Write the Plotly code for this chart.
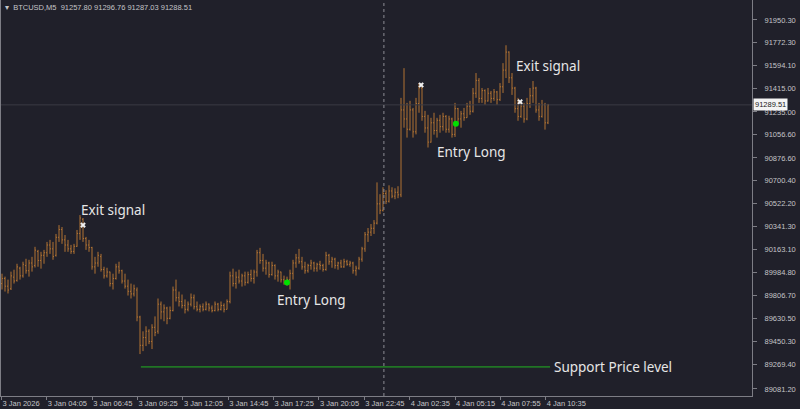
import plotly.graph_objects as go

# ---------------- data ----------------
opens = [89900,89940,89880,89860,89950,89925,90020,89960,90040,90000,90060,90040,90150,90080,90120,90140,90200,90170,90120,90260,
         90320,90240,90200,90170,90150,90190,90290,90400,90250,90200,90180,90030,90060,90110,90010,89960,89990,89900,89940,90030,
         90000,89920,89880,89840,89820,89850,89640,89420,89480,89530,89450,89560,89530,89740,89680,89710,89630,89690,89850,89790,
         89760,89730,89700,89740,89790,89720,89700,89720,89700,89740,89710,89690,89740,89700,89730,89700,89760,89960,89900,89950,
         89920,89960,89910,89970,89940,89990,90140,90080,90020,90060,89970,90040,89960,89990,89930,89910,89930,89980,90060,90100,
         90070,90030,90000,90040,90060,90020,90050,90040,90010,90120,90070,90090,90040,90060,90030,90070,90050,90060,90000,90020,
         90090,90170,90280,90300,90330,90370,90520,90470,90600,90540,90620,90580,90610,90590,91250,91180,91100,91250,91080,91300,
         91420,91200,91110,91000,91150,91090,91170,91120,91200,91100,91180,91060,91260,91180,91220,91190,91280,91240,91380,91480,
         91340,91400,91320,91380,91340,91390,91330,91430,91560,91700,91500,91420,91260,91200,91280,91180,91300,91360,91420,91250,
         91200,91290,91150]
highs = [89977,89954,89931,89993,90008,90054,90031,90070,90093,90085,90108,90186,90162,90147,90162,90224,90240,90224,90286,90355,
         90340,90278,90240,90201,90209,90317,90433,90410,90263,90240,90186,90108,90147,90131,90031,90023,89993,89977,90054,90070,
         90008,89977,89931,89900,89892,89870,89650,89529,89568,89545,89584,89645,89784,89761,89738,89720,89722,89877,89931,89838,
         89815,89777,89761,89823,89815,89761,89738,89746,89761,89746,89730,89761,89750,89761,89746,89777,89993,90016,89993,90008,
         89977,89993,89993,90008,90008,90162,90178,90131,90085,90070,90070,90050,90008,89993,89962,89954,90008,90085,90131,90170,
         90108,90070,90054,90085,90070,90062,90077,90054,90147,90131,90108,90101,90070,90085,90093,90085,90077,90070,90039,90108,
         90186,90301,90332,90363,90394,90687,90595,90649,90626,90664,90649,90641,90657,91344,91575,91305,91321,91266,91344,91459,
         91430,91243,91212,91189,91228,91189,91212,91228,91210,91205,91190,91305,91266,91243,91266,91305,91321,91421,91537,91498,
         91421,91410,91421,91398,91413,91398,91459,91614,91753,91706,91537,91430,91344,91321,91305,91344,91421,91475,91430,91305,
         91328,91305,91297]
lows = [89854,89838,89823,89850,89900,89915,89931,89946,89977,89954,89993,90025,90031,90016,90054,90108,90131,90085,90110,90224,
        90209,90147,90147,90131,90131,90186,90240,90224,90162,90147,90008,89977,90031,89993,89939,89946,89877,89854,89931,89977,
        89900,89861,89807,89784,89800,89607,89352,89375,89414,89429,89391,89491,89510,89622,89607,89584,89622,89684,89761,89722,
        89707,89668,89684,89722,89699,89684,89676,89684,89691,89684,89676,89684,89684,89691,89676,89699,89746,89877,89861,89900,
        89877,89884,89900,89915,89900,89954,90054,89993,89969,89946,89962,89931,89915,89908,89892,89884,89854,89931,90023,90054,
        90008,89977,89985,90008,89993,89993,90008,89993,90000,90046,90023,90016,90008,90023,90023,90039,90031,89977,89962,90008,
        90070,90147,90224,90270,90286,90360,90440,90460,90518,90530,90564,90556,90564,90572,91112,91035,91089,91035,91060,91228,
        91166,91073,90958,90996,91058,91035,91073,91089,91073,91073,91035,91040,91151,91112,91166,91189,91212,91230,91344,91305,
        91305,91290,91315,91305,91321,91290,91320,91382,91498,91459,91367,91228,91166,91189,91151,91170,91266,91305,91228,91166,
        91190,91097,91140]
closes = [89940,89880,89850,89960,89920,90030,89960,90050,90000,90060,90030,90160,90080,90120,90140,90200,90170,90110,90260,90320,
          90240,90200,90170,90150,90190,90290,90410,90250,90200,90180,90030,90060,90120,90010,89960,89990,89900,89940,90030,90000,
          89920,89880,89840,89820,89860,89640,89420,89480,89530,89450,89560,89520,89740,89680,89710,89630,89690,89850,89790,89760,
          89730,89700,89740,89790,89720,89700,89720,89700,89740,89710,89690,89740,89700,89730,89700,89760,89960,89900,89950,89920,
          89960,89910,89970,89940,89990,90140,90080,90020,90060,89970,90040,89960,89990,89930,89910,89930,89980,90060,90100,90070,
          90030,90000,90040,90060,90020,90050,90040,90010,90120,90070,90090,90040,90060,90030,90070,90050,90060,90000,90020,90090,
          90170,90280,90300,90330,90370,90520,90470,90600,90540,90620,90580,90610,90590,91250,91180,91100,91250,91080,91300,91420,
          91200,91110,91000,91150,91090,91170,91120,91200,91100,91180,91060,91260,91180,91220,91190,91280,91240,91380,91480,91340,
          91400,91320,91380,91340,91390,91330,91430,91560,91700,91500,91420,91260,91200,91280,91180,91300,91360,91420,91250,91200,
          91290,91150,91288.51]
bar_index = list(range(len(closes)))

# signals (bar position, price)
exit_bars = [27, 139.7, 172.7]
exit_prices = [90355, 91444, 91313]
entry_bars = [95, 151.3]
entry_prices = [89908, 91143]

support_price = 89252
support_from_bar = 46.3
support_to_bar = 182.7
current_price = 91289.51
header = "▾  BTCUSD,M5  91257.80 91296.76 91287.03 91288.51"

y_tick_labels = ["91950.30","91772.30","91594.10","91415.00","91235.00","91056.60","90876.60","90700.40","90522.20",
                 "90341.30","90163.10","89984.80","89806.70","89630.50","89450.30","89269.40","89081.20"]
x_tick_labels = ["3 Jan 2026","3 Jan 04:05","3 Jan 06:45","3 Jan 09:25","3 Jan 12:05","3 Jan 14:45","3 Jan 17:25",
                 "3 Jan 20:05","3 Jan 22:45","4 Jan 02:35","4 Jan 05:15","4 Jan 07:55","4 Jan 10:35"]

# ---------------- style ----------------
BG = "#20202a"
BAR = "#b97834"
AX = "#7d7d85"
TXT = "#c4c4c8"
LBL = "#e6e6e6"
TICK_STEP = 15.117  # bars between time labels

fig = go.Figure()
fig.add_trace(go.Ohlc(
    x=bar_index, open=opens, high=highs, low=lows, close=closes,
    increasing=dict(line=dict(color=BAR, width=1)),
    decreasing=dict(line=dict(color=BAR, width=1)),
    tickwidth=0.35, hoverinfo="skip", showlegend=False, opacity=0.95))

# support line
fig.add_trace(go.Scatter(x=[support_from_bar, support_to_bar], y=[support_price, support_price],
                         mode="lines", line=dict(color="#22b422", width=1), hoverinfo="skip", showlegend=False))
# exit markers
fig.add_trace(go.Scatter(x=exit_bars, y=exit_prices, mode="markers",
                         marker=dict(symbol="x", size=5, color="#f0f0f0", line=dict(width=0)),
                         hoverinfo="skip", showlegend=False))
# entry markers
fig.add_trace(go.Scatter(x=entry_bars, y=entry_prices, mode="markers",
                         marker=dict(symbol="circle", size=6, color="#00e000", line=dict(width=0)),
                         hoverinfo="skip", showlegend=False))

# current price line and vertical dotted line
fig.add_hline(y=current_price, line=dict(color="#3a3a44", width=1))
fig.add_vline(x=127.3, line=dict(color="#8c8c94", width=1, dash="dot"))

ann_font = dict(family="Noto Sans, Open Sans, sans-serif", size=13.5, color=LBL)
for txt, xb, yp in [("Exit signal", 26.7, 90471), ("Entry Long", 92, 89769),
                    ("Entry Long", 145.3, 90927), ("Exit signal", 171.7, 91591),
                    ("Support Price level", 184.3, support_price)]:
    fig.add_annotation(x=xb, y=yp, text=txt, showarrow=False, xanchor="left", yanchor="middle",
                       xshift=-3, font=ann_font)

fig.add_annotation(xref="paper", yref="paper", x=0.003, y=0.997, xanchor="left", yanchor="top",
                   text=header, showarrow=False, font=dict(family="Liberation Sans, Arial", size=7.5, color=TXT))
fig.add_annotation(xref="paper", x=1, y=current_price, xanchor="left", yanchor="middle", xshift=1,
                   text=f"{current_price:.2f}", showarrow=False, bgcolor="#f4f4f4", borderpad=1,
                   font=dict(family="Liberation Sans, Arial", size=7.5, color="#202020"))

yvals = [float(v) for v in y_tick_labels]
fig.update_layout(
    width=800, height=409, autosize=False,
    margin=dict(l=1, r=48, t=0, b=13, autoexpand=False),
    paper_bgcolor=BG, plot_bgcolor=BG,
    font=dict(family="Liberation Sans, Arial", size=7.5, color=TXT),
    xaxis=dict(range=[-0.333, 250], showgrid=False, zeroline=False, rangeslider=dict(visible=False),
               tickvals=[k * TICK_STEP - 0.17 for k in range(len(x_tick_labels))], ticktext=x_tick_labels,
               ticks="outside", ticklen=3, tickcolor=AX, showline=True, linecolor=AX, linewidth=1,
               tickangle=0, automargin=False,
               ticklabelposition="outside right", tickfont=dict(size=7.5, color=TXT)),
    yaxis=dict(range=[92104.9 - 7.775 * 396, 92104.9], side="right", showgrid=False, zeroline=False,
               tickvals=yvals, ticktext=y_tick_labels, ticks="outside", ticklen=4, tickcolor=AX,
               ticklabelstandoff=6, automargin=False,
               showline=True, mirror=True, linecolor=AX, linewidth=1, tickfont=dict(size=7.5, color=TXT)),
)

fig.write_html("out.html", config={"displayModeBar": False},
               post_script="document.body.style.margin='0';document.body.style.overflow='hidden';")
